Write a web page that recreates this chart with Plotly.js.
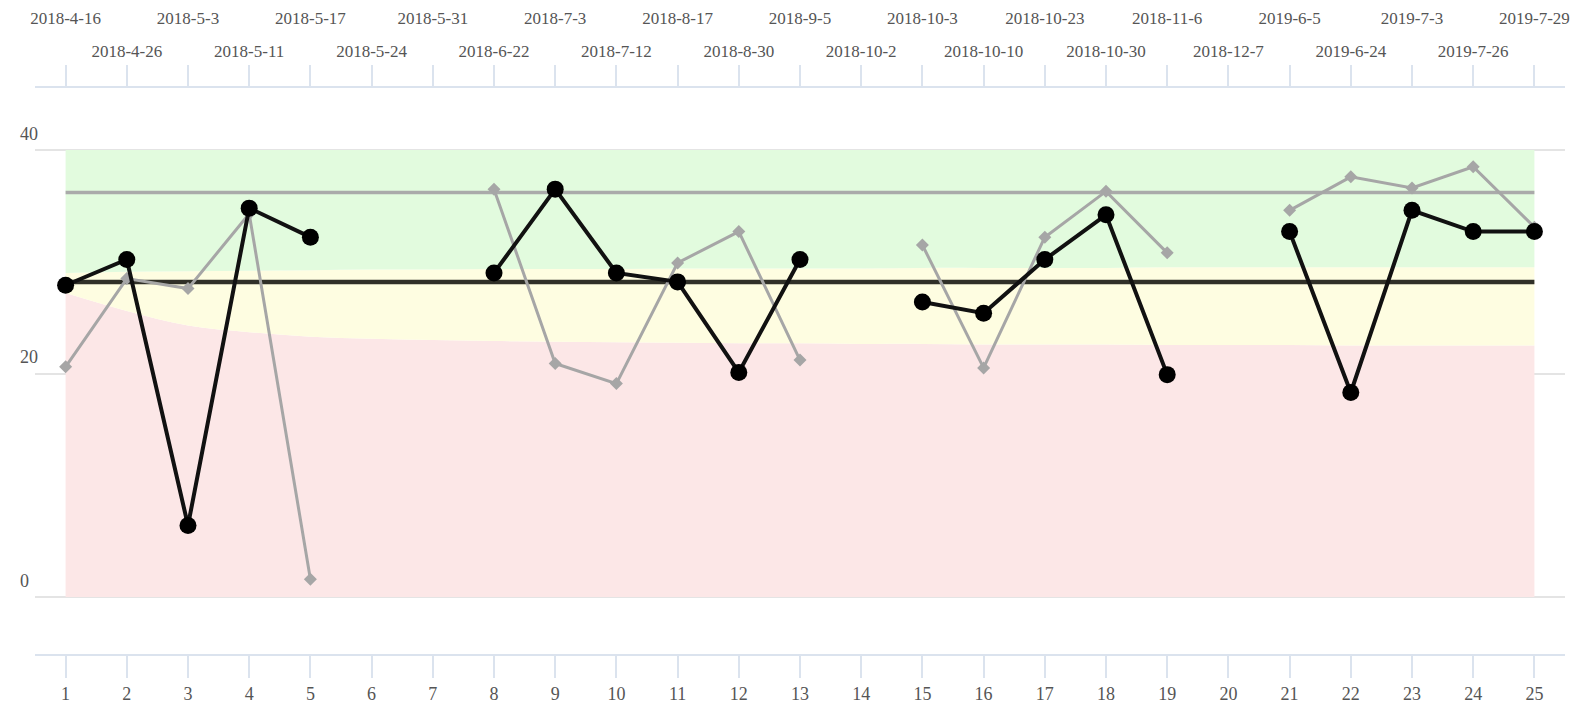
<!DOCTYPE html>
<html>
<head>
<meta charset="utf-8">
<script src="https://cdn.plot.ly/plotly-3.0.1.min.js"></script>
<style>html,body{margin:0;padding:0;background:#fff;}#chart{width:1575px;height:707px;}</style>
</head>
<body>
<div id="chart"></div>
<script>
// Sample index (bottom axis)
const indices = [1,2,3,4,5,6,7,8,9,10,11,12,13,14,15,16,17,18,19,20,21,22,23,24,25];
// Dates (top axis)
const dates = ["2018-4-16","2018-4-26","2018-5-3","2018-5-11","2018-5-17","2018-5-24","2018-5-31",
  "2018-6-22","2018-7-3","2018-7-12","2018-8-17","2018-8-30","2018-9-5","2018-10-2","2018-10-3",
  "2018-10-10","2018-10-23","2018-10-30","2018-11-6","2018-12-7","2019-6-5","2019-6-24","2019-7-3",
  "2019-7-26","2019-7-29"];
// Main series (black)
const mainValues = [27.9,30.2,6.4,34.8,32.2,null,null,29.0,36.5,29.0,28.2,20.1,30.2,null,26.4,25.4,30.2,34.2,19.9,null,32.7,18.3,34.6,32.7,32.7];
// Comparison series (gray)
const compValues = [20.6,28.5,27.6,34.3,1.6,null,null,36.5,20.9,19.1,29.9,32.7,21.2,null,31.5,20.5,32.2,36.3,30.8,null,34.6,37.6,36.6,38.5,33.1];
// Reference levels
const meanLevel = 28.2;
const upperLevel = 36.2;
const bandTop = 40;
// Band boundaries
const lowerBand = [27.2,25.6,24.3,23.7,23.3,23.1,23.0,22.9,22.85,22.8,22.75,22.7,22.7,22.65,22.65,22.6,22.6,22.6,22.55,22.55,22.55,22.5,22.5,22.5,22.5];
const upperBand = [29.0,29.1,29.15,29.2,29.25,29.3,29.3,29.35,29.35,29.35,29.4,29.4,29.4,29.4,29.45,29.45,29.45,29.45,29.5,29.5,29.5,29.5,29.5,29.5,29.5];
// Axis ticks
const yTicks = [0,20,40];

const FONT = "Liberation Serif, Times New Roman, serif";
const AXC = "#dbe3ee";
const TXT = "#555555";

const oddIdx = indices.filter(i => i % 2 === 1);

const traces = [
  {x: indices, y: lowerBand, mode: 'lines', line: {width: 0, shape: 'spline'}, fill: 'tozeroy', fillcolor: '#fce7e7', hoverinfo: 'skip', showlegend: false},
  {x: indices, y: upperBand, mode: 'lines', line: {width: 0, shape: 'spline'}, fill: 'tonexty', fillcolor: '#fefde1', hoverinfo: 'skip', showlegend: false},
  {x: indices, y: indices.map(() => bandTop), mode: 'lines', line: {width: 0}, fill: 'tonexty', fillcolor: '#e2fbde', hoverinfo: 'skip', showlegend: false},
  {x: [indices[0], indices[indices.length-1]], y: [upperLevel, upperLevel], mode: 'lines', line: {color: '#aaaaaa', width: 3.5}, showlegend: false},
  {x: [indices[0], indices[indices.length-1]], y: [meanLevel, meanLevel], mode: 'lines', line: {color: '#303028', width: 4.5}, showlegend: false},
  {x: indices, y: compValues, mode: 'lines+markers', connectgaps: false, line: {color: '#a6a6a6', width: 3}, marker: {symbol: 'diamond', size: 10, color: '#a6a6a6'}, showlegend: false},
  {x: indices, y: mainValues, mode: 'lines+markers', connectgaps: false, line: {color: '#111111', width: 4}, marker: {symbol: 'circle', size: 17, color: '#000000'}, showlegend: false},
  {x: [], y: [], xaxis: 'x2', showlegend: false},
  {x: [], y: [], xaxis: 'x3', showlegend: false}
];

const layout = {
  width: 1575, height: 707,
  margin: {l: 35, r: 10, t: 88, b: 53},
  paper_bgcolor: '#ffffff', plot_bgcolor: '#ffffff',
  showlegend: false,
  font: {family: FONT, size: 17, color: TXT},
  xaxis: {
    range: [0.5, 25.5], tickvals: indices, ticktext: indices.map(String),
    showgrid: false, zeroline: false, showline: true, linecolor: AXC, linewidth: 2,
    ticks: 'outside', ticklen: 22, tickwidth: 2, tickcolor: AXC,
    tickfont: {family: FONT, size: 18, color: TXT}, fixedrange: true
  },
  xaxis2: {
    overlaying: 'x', side: 'top', anchor: 'y', matches: 'x', range: [0.5, 25.5],
    tickvals: indices, ticktext: indices.map((v, i) => (v % 2 === 0 ? dates[i] : '')),
    showgrid: false, zeroline: false, showline: true, linecolor: AXC, linewidth: 2,
    ticks: 'outside', ticklen: 21, tickwidth: 2, tickcolor: AXC,
    tickfont: {family: FONT, size: 17, color: TXT}, ticklabelstandoff: 1
  },
  xaxis3: {
    overlaying: 'x', side: 'top', anchor: 'free', position: 1, matches: 'x', range: [0.5, 25.5],
    tickvals: oddIdx, ticktext: oddIdx.map(v => dates[v-1]),
    showgrid: false, zeroline: false, showline: false, ticks: '',
    tickfont: {family: FONT, size: 17, color: TXT}, ticklabelstandoff: 61
  },
  yaxis: {
    range: [-5.1, 45.55], tickvals: yTicks, ticktext: yTicks.map(String),
    showgrid: true, gridcolor: '#e4e4e4', gridwidth: 2, zeroline: false, showline: false,
    ticks: '', ticklabelposition: 'inside top', ticklabelstandoff: -18, ticklabelshift: -4,
    tickfont: {family: FONT, size: 18, color: TXT}, fixedrange: true
  }
};

Plotly.newPlot('chart', traces, layout, {displayModeBar: false, staticPlot: true});
</script>
</body>
</html>
